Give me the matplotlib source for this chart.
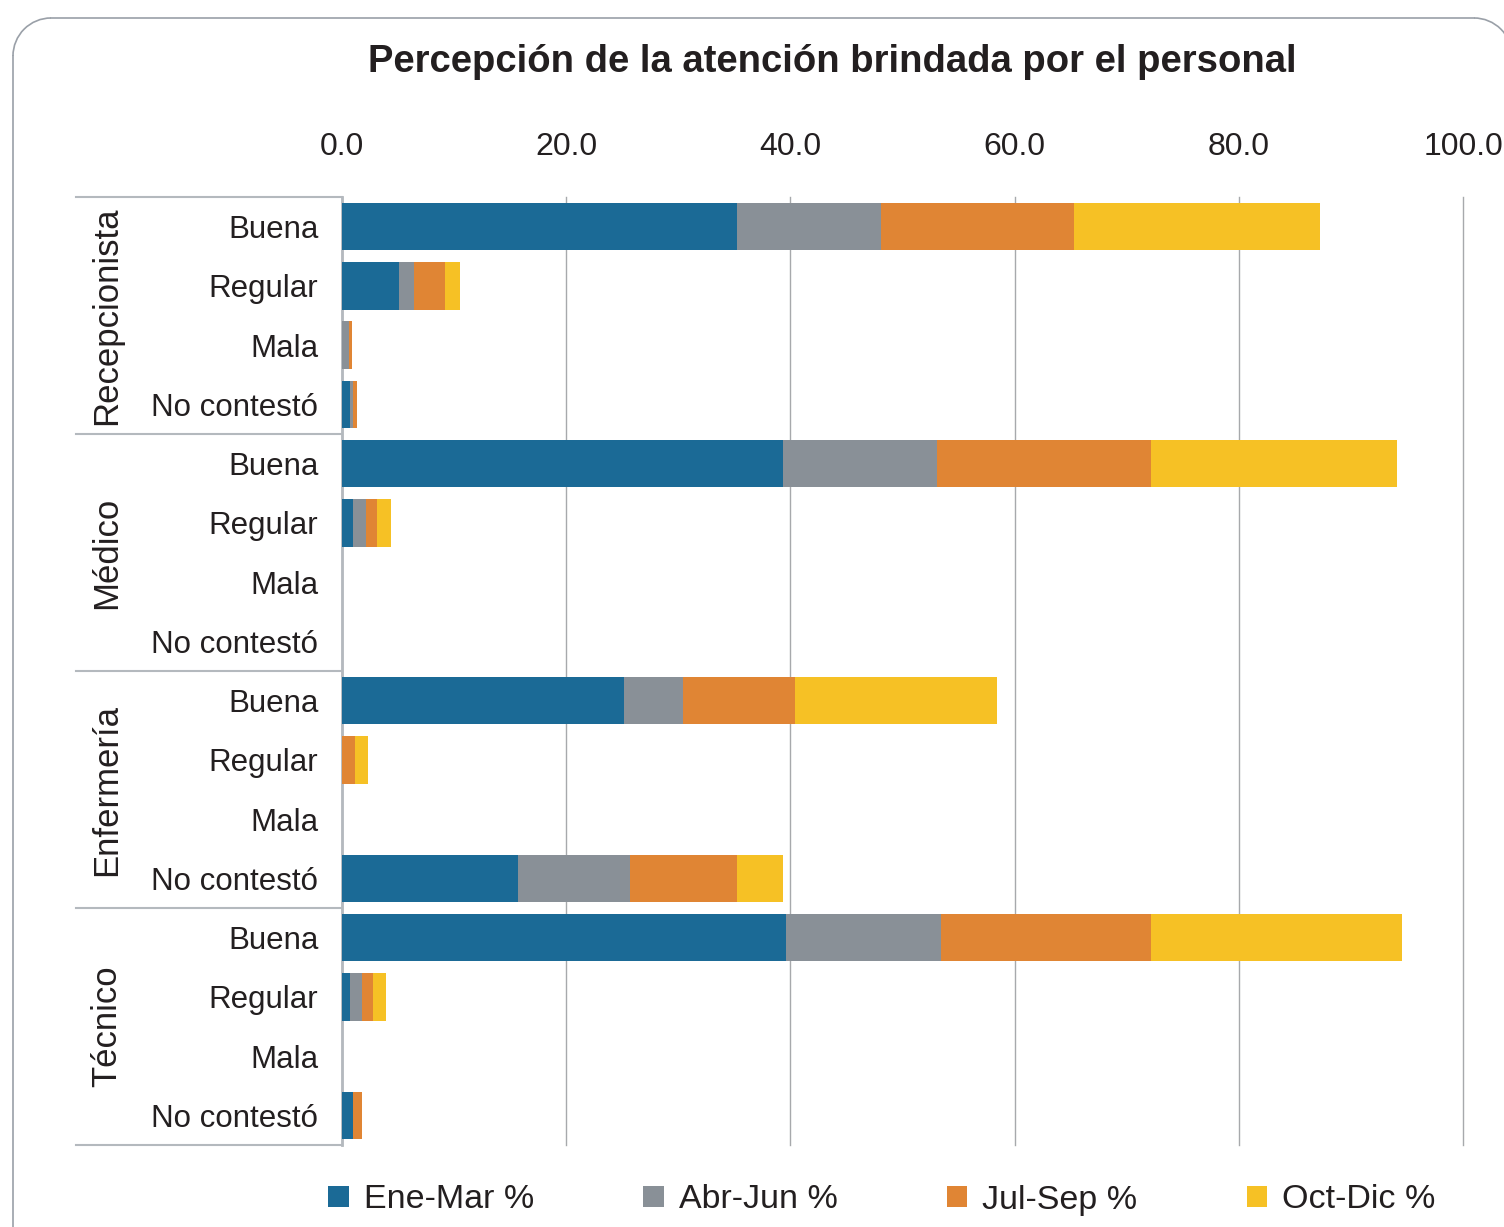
import matplotlib
matplotlib.use("Agg")
import matplotlib.pyplot as plt
from matplotlib.patches import Patch, Arc
from matplotlib.lines import Line2D
from matplotlib.transforms import blended_transform_factory, Affine2D
import numpy as np

plt.rcParams['font.family'] = ['Liberation Sans', 'DejaVu Sans']

# ---------- Data ----------
groups = ["Recepcionista", "Médico", "Enfermería", "Técnico"]
answers = ["Buena", "Regular", "Mala", "No contestó"]
series = ["Ene-Mar %", "Abr-Jun %", "Jul-Sep %", "Oct-Dic %"]
colors = ["#1b6a96", "#899097", "#e08534", "#f6c125"]

# one value per row: groups x answers, in order
ene_mar = [35.2, 5.1, 0.0, 0.7,
           39.3, 1.0, 0.0, 0.0,
           25.2, 0.0, 0.0, 15.7,
           39.6, 0.7, 0.0, 1.0]
abr_jun = [12.9, 1.3, 0.6, 0.3,
           13.8, 1.1, 0.0, 0.0,
           5.2, 0.0, 0.0, 10.0,
           13.8, 1.1, 0.0, 0.0]
jul_sep = [17.2, 2.8, 0.3, 0.3,
           19.1, 1.0, 0.0, 0.0,
           10.0, 1.2, 0.0, 9.5,
           18.8, 1.0, 0.0, 0.8]
oct_dic = [21.9, 1.3, 0.0, 0.0,
           21.9, 1.3, 0.0, 0.0,
           18.0, 1.1, 0.0, 4.1,
           22.4, 1.1, 0.0, 0.0]

W, H = 1504, 1227
fig = plt.figure(figsize=(W / 100, H / 100), dpi=100)

# pixel coords, origin top-left
px = Affine2D().scale(1 / W, -1 / H).translate(0, 1) + fig.transFigure

# rounded frame (right and bottom edges run off the picture)
fl, ft, fr, fb, r = 13, 18, 1512, 1260, 38
fcol = "#9aa0a8"
for xs, ys in [([fl + r, fr - r], [ft, ft]), ([fl, fl], [ft + r, fb]),
               ([fr, fr], [ft + r, fb])]:
    fig.add_artist(Line2D(xs, ys, transform=px, color=fcol, linewidth=1.2))
fig.add_artist(Arc((fl + r, ft + r), 2 * r, 2 * r, theta1=180, theta2=270,
                   transform=px, color=fcol, linewidth=1.2))
fig.add_artist(Arc((fr - r, ft + r), 2 * r, 2 * r, theta1=270, theta2=360,
                   transform=px, color=fcol, linewidth=1.2))

x0, x1 = 342, 1463
y0, y1 = 197, 1145
ax = fig.add_axes([x0 / W, 1 - y1 / H, (x1 - x0) / W, (y1 - y0) / H])

n = len(groups) * len(answers)
ypos = np.arange(n)
left = np.zeros(n)
for vals, col, name in zip([ene_mar, abr_jun, jul_sep, oct_dic], colors, series):
    ax.barh(ypos, vals, left=left, height=0.8, color=col, label=name, zorder=3)
    left += np.array(vals)

ax.set_xlim(0, 100)
ax.set_ylim(n - 0.5, -0.5)
ax.set_xticks(np.arange(0, 101, 20))
ax.set_xticklabels([f"{v:.1f}" for v in np.arange(0, 101, 20)])
ax.xaxis.tick_top()
ax.tick_params(axis="x", length=0, pad=25, labelsize=23, colors="#231f20")
ax.set_yticks(ypos)
ax.set_yticklabels(answers * len(groups))
ax.tick_params(axis="y", length=0, pad=17, labelsize=22.5, colors="#231f20")
ax.grid(axis="x", color="#a7a9ac", linewidth=1.0, zorder=0)
for gl in ax.get_xgridlines():
    gl.set_clip_on(False)

for s in ["top", "right", "bottom"]:
    ax.spines[s].set_visible(False)
ax.spines["left"].set_color("#b4b9be")
ax.spines["left"].set_linewidth(2)

# group separators and labels
trans = blended_transform_factory(ax.transAxes, ax.transData)
xl = (76 - x0) / (x1 - x0)
for k in range(len(groups) + 1):
    yb = k * len(answers) - 0.5
    ax.plot([xl, 0], [yb, yb], color="#b4b9be", linewidth=1.5,
            transform=trans, clip_on=False)
for k, g in enumerate(groups):
    yc = k * len(answers) + (len(answers) - 1) / 2
    ax.text((107 - x0) / (x1 - x0), yc, g, transform=trans, rotation=90,
            ha="center", va="center", fontsize=25, color="#231f20")

fig.text(832 / W, 1 - 62 / H, "Percepción de la atención brindada por el personal",
         ha="center", va="center", fontsize=27.5, fontweight="bold", color="#231f20")

handles = [Patch(facecolor=c, label=s) for c, s in zip(colors, series)]
fig.legend(handles=handles, loc="center", bbox_to_anchor=(882 / W, 1 - 1200 / H),
           ncol=4, frameon=False, fontsize=24.5, handlelength=0.6, handleheight=0.6,
           handletextpad=0.45, columnspacing=3.2, labelcolor="#231f20")

fig.savefig("out.png", dpi=100)
